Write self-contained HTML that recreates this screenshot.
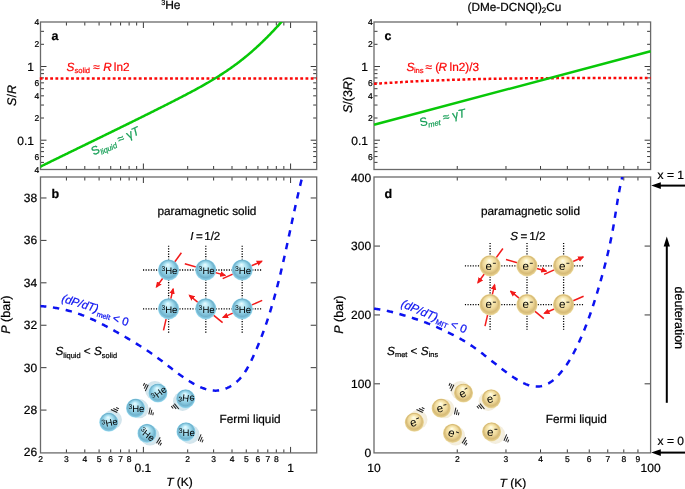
<!DOCTYPE html>
<html><head><meta charset="utf-8"><style>html,body{margin:0;padding:0;background:#fff;overflow:hidden;}svg{display:block;filter:blur(0.35px);}</style></head>
<body>
<svg width="685" height="489" viewBox="0 0 685 489" text-rendering="geometricPrecision" font-family='"Liberation Sans", sans-serif'>
<defs>
<radialGradient id="he" cx="0.5" cy="0.5" r="0.5" fx="0.46" fy="0.24">
<stop offset="0" stop-color="#eafcff"/><stop offset="0.3" stop-color="#b8e8f6"/><stop offset="0.62" stop-color="#8ccce2"/><stop offset="0.82" stop-color="#70b2cc"/><stop offset="0.93" stop-color="#84c8e2"/><stop offset="1" stop-color="#b0e8f8"/>
</radialGradient>
<radialGradient id="el" cx="0.5" cy="0.5" r="0.5" fx="0.46" fy="0.24">
<stop offset="0" stop-color="#fffdec"/><stop offset="0.3" stop-color="#f9ecb8"/><stop offset="0.62" stop-color="#eed89a"/><stop offset="0.82" stop-color="#d6ba76"/><stop offset="0.93" stop-color="#e2ca88"/><stop offset="1" stop-color="#f3e4ae"/>
</radialGradient>
<radialGradient id="heg" cx="0.5" cy="0.5" r="0.5"><stop offset="0" stop-color="#d6ecf4"/><stop offset="1" stop-color="#c2dae4"/></radialGradient>
<radialGradient id="elg" cx="0.5" cy="0.5" r="0.5"><stop offset="0" stop-color="#faf6e8"/><stop offset="1" stop-color="#eee6d0"/></radialGradient>
<marker id="ar" viewBox="0 0 10 10" refX="8" refY="5" markerWidth="4.2" markerHeight="4.2" orient="auto"><path d="M0,0.5L10,5L0,9.5z" fill="#f21a1a"/></marker>
<clipPath id="ca"><rect x="40.5" y="22" width="276.2" height="147.5"/></clipPath>
<clipPath id="cb"><rect x="40.5" y="177" width="276.2" height="275.7"/></clipPath>
<clipPath id="cd"><rect x="374" y="177" width="276.6" height="275.7"/></clipPath>
</defs>
<rect width="685" height="489" fill="#fff"/>
<text x="161.3" y="9" font-size="12" stroke="#000" stroke-width="0.22"><tspan font-size="7.2" dy="-3.9">3</tspan><tspan dy="3.9" x="165.2">He</tspan></text>
<text x="467.6" y="11" font-size="11.75" stroke="#000" stroke-width="0.22">(DMe-DCNQI)<tspan font-size="8" dy="2.4" dx="-0.2">2</tspan><tspan dy="-2.4">Cu</tspan></text>
<path d="M66.42,169.5v-3.5M66.42,22v3.5M84.81,169.5v-3.5M84.81,22v3.5M99.08,169.5v-3.5M99.08,22v3.5M110.73,169.5v-3.5M110.73,22v3.5M120.59,169.5v-3.5M120.59,22v3.5M129.12,169.5v-3.5M129.12,22v3.5M136.65,169.5v-3.5M136.65,22v3.5M143.39,169.5v-6M143.39,22v6M187.7,169.5v-3.5M187.7,22v3.5M213.62,169.5v-3.5M213.62,22v3.5M232.01,169.5v-3.5M232.01,22v3.5M246.28,169.5v-3.5M246.28,22v3.5M257.93,169.5v-3.5M257.93,22v3.5M267.79,169.5v-3.5M267.79,22v3.5M276.32,169.5v-3.5M276.32,22v3.5M283.85,169.5v-3.5M283.85,22v3.5M290.59,169.5v-6M290.59,22v6" stroke="#3a3a3a" stroke-width="1" fill="none"/>
<path d="M66.42,452.9v-3.5M66.42,177v3.5M84.81,452.9v-3.5M84.81,177v3.5M99.08,452.9v-3.5M99.08,177v3.5M110.73,452.9v-3.5M110.73,177v3.5M120.59,452.9v-3.5M120.59,177v3.5M129.12,452.9v-3.5M129.12,177v3.5M136.65,452.9v-3.5M136.65,177v3.5M143.39,452.9v-6M143.39,177v6M187.7,452.9v-3.5M187.7,177v3.5M213.62,452.9v-3.5M213.62,177v3.5M232.01,452.9v-3.5M232.01,177v3.5M246.28,452.9v-3.5M246.28,177v3.5M257.93,452.9v-3.5M257.93,177v3.5M267.79,452.9v-3.5M267.79,177v3.5M276.32,452.9v-3.5M276.32,177v3.5M283.85,452.9v-3.5M283.85,177v3.5M290.59,452.9v-6M290.59,177v6" stroke="#3a3a3a" stroke-width="1" fill="none"/>
<path d="M457.26,169.5v-3.5M457.26,22v3.5M505.97,169.5v-3.5M505.97,22v3.5M540.53,169.5v-3.5M540.53,22v3.5M567.34,169.5v-3.5M567.34,22v3.5M589.24,169.5v-3.5M589.24,22v3.5M607.75,169.5v-3.5M607.75,22v3.5M623.79,169.5v-3.5M623.79,22v3.5M637.94,169.5v-3.5M637.94,22v3.5" stroke="#3a3a3a" stroke-width="1" fill="none"/>
<path d="M457.26,452.9v-3.5M457.26,177v3.5M505.97,452.9v-3.5M505.97,177v3.5M540.53,452.9v-3.5M540.53,177v3.5M567.34,452.9v-3.5M567.34,177v3.5M589.24,452.9v-3.5M589.24,177v3.5M607.75,452.9v-3.5M607.75,177v3.5M623.79,452.9v-3.5M623.79,177v3.5M637.94,452.9v-3.5M637.94,177v3.5" stroke="#3a3a3a" stroke-width="1" fill="none"/>
<path d="M40.5,162.39h3.5M316.7,162.39h-3.5M40.5,156.55h3.5M316.7,156.55h-3.5M40.5,151.62h3.5M316.7,151.62h-3.5M40.5,147.34h3.5M316.7,147.34h-3.5M40.5,143.57h3.5M316.7,143.57h-3.5M40.5,140.2h6M316.7,140.2h-6M40.5,118.01h3.5M316.7,118.01h-3.5M40.5,105.04h3.5M316.7,105.04h-3.5M40.5,95.83h3.5M316.7,95.83h-3.5M40.5,88.69h3.5M316.7,88.69h-3.5M40.5,82.85h3.5M316.7,82.85h-3.5M40.5,77.92h3.5M316.7,77.92h-3.5M40.5,73.64h3.5M316.7,73.64h-3.5M40.5,69.87h3.5M316.7,69.87h-3.5M40.5,66.5h6M316.7,66.5h-6M40.5,44.31h3.5M316.7,44.31h-3.5M40.5,31.34h3.5M316.7,31.34h-3.5" stroke="#3a3a3a" stroke-width="1" fill="none"/>
<path d="M374,162.39h3.5M650.6,162.39h-3.5M374,156.55h3.5M650.6,156.55h-3.5M374,151.62h3.5M650.6,151.62h-3.5M374,147.34h3.5M650.6,147.34h-3.5M374,143.57h3.5M650.6,143.57h-3.5M374,140.2h6M650.6,140.2h-6M374,118.01h3.5M650.6,118.01h-3.5M374,105.04h3.5M650.6,105.04h-3.5M374,95.83h3.5M650.6,95.83h-3.5M374,88.69h3.5M650.6,88.69h-3.5M374,82.85h3.5M650.6,82.85h-3.5M374,77.92h3.5M650.6,77.92h-3.5M374,73.64h3.5M650.6,73.64h-3.5M374,69.87h3.5M650.6,69.87h-3.5M374,66.5h6M650.6,66.5h-6M374,44.31h3.5M650.6,44.31h-3.5M374,31.34h3.5M650.6,31.34h-3.5" stroke="#3a3a3a" stroke-width="1" fill="none"/>
<path d="M40.5,410.08h6M316.7,410.08h-6M40.5,367.66h6M316.7,367.66h-6M40.5,325.24h6M316.7,325.24h-6M40.5,282.82h6M316.7,282.82h-6M40.5,240.4h6M316.7,240.4h-6M40.5,197.98h6M316.7,197.98h-6" stroke="#3a3a3a" stroke-width="1" fill="none"/>
<path d="M374,383.82h6M650.6,383.82h-6M374,314.95h6M650.6,314.95h-6M374,246.07h6M650.6,246.07h-6" stroke="#3a3a3a" stroke-width="1" fill="none"/>
<rect x="40.5" y="22" width="276.2" height="147.5" fill="none" stroke="#6a6a6a" stroke-width="1.3"/>
<rect x="40.5" y="177" width="276.2" height="275.9" fill="none" stroke="#6a6a6a" stroke-width="1.3"/>
<rect x="374" y="22" width="276.6" height="147.5" fill="none" stroke="#6a6a6a" stroke-width="1.3"/>
<rect x="374" y="177" width="276.6" height="275.9" fill="none" stroke="#6a6a6a" stroke-width="1.3"/>
<text x="39.2" y="25.23" font-size="8.5" text-anchor="end" fill="#000"  stroke="#000" stroke-width="0.22">4</text>
<text x="39.2" y="47.41" font-size="8.5" text-anchor="end" fill="#000"  stroke="#000" stroke-width="0.22">2</text>
<text x="39.2" y="85.95" font-size="8.5" text-anchor="end" fill="#000"  stroke="#000" stroke-width="0.22">6</text>
<text x="39.2" y="98.93" font-size="8.5" text-anchor="end" fill="#000"  stroke="#000" stroke-width="0.22">4</text>
<text x="39.2" y="121.11" font-size="8.5" text-anchor="end" fill="#000"  stroke="#000" stroke-width="0.22">2</text>
<text x="39.2" y="159.65" font-size="8.5" text-anchor="end" fill="#000"  stroke="#000" stroke-width="0.22">6</text>
<text x="39.2" y="172.63" font-size="8.5" text-anchor="end" fill="#000"  stroke="#000" stroke-width="0.22">4</text>
<text x="372.7" y="25.23" font-size="8.5" text-anchor="end" fill="#000"  stroke="#000" stroke-width="0.22">4</text>
<text x="372.7" y="47.41" font-size="8.5" text-anchor="end" fill="#000"  stroke="#000" stroke-width="0.22">2</text>
<text x="372.7" y="85.95" font-size="8.5" text-anchor="end" fill="#000"  stroke="#000" stroke-width="0.22">6</text>
<text x="372.7" y="98.93" font-size="8.5" text-anchor="end" fill="#000"  stroke="#000" stroke-width="0.22">4</text>
<text x="372.7" y="121.11" font-size="8.5" text-anchor="end" fill="#000"  stroke="#000" stroke-width="0.22">2</text>
<text x="372.7" y="159.65" font-size="8.5" text-anchor="end" fill="#000"  stroke="#000" stroke-width="0.22">6</text>
<text x="34" y="70.8" font-size="12" text-anchor="end" fill="#000"  stroke="#000" stroke-width="0.22">1</text>
<text x="34" y="144.5" font-size="12" text-anchor="end" fill="#000"  stroke="#000" stroke-width="0.22">0.1</text>
<text x="367.9" y="70.8" font-size="12" text-anchor="end" fill="#000"  stroke="#000" stroke-width="0.22">1</text>
<text x="367.9" y="144.5" font-size="12" text-anchor="end" fill="#000"  stroke="#000" stroke-width="0.22">0.1</text>
<text x="37.2" y="456.4" font-size="12" text-anchor="end" fill="#000"  stroke="#000" stroke-width="0.22">26</text>
<text x="37.2" y="413.98" font-size="12" text-anchor="end" fill="#000"  stroke="#000" stroke-width="0.22">28</text>
<text x="37.2" y="371.56" font-size="12" text-anchor="end" fill="#000"  stroke="#000" stroke-width="0.22">30</text>
<text x="37.2" y="329.14" font-size="12" text-anchor="end" fill="#000"  stroke="#000" stroke-width="0.22">32</text>
<text x="37.2" y="286.72" font-size="12" text-anchor="end" fill="#000"  stroke="#000" stroke-width="0.22">34</text>
<text x="37.2" y="244.3" font-size="12" text-anchor="end" fill="#000"  stroke="#000" stroke-width="0.22">36</text>
<text x="37.2" y="201.88" font-size="12" text-anchor="end" fill="#000"  stroke="#000" stroke-width="0.22">38</text>
<text x="371.1" y="457" font-size="12" text-anchor="end" fill="#000"  stroke="#000" stroke-width="0.22">0</text>
<text x="371.1" y="388.12" font-size="12" text-anchor="end" fill="#000"  stroke="#000" stroke-width="0.22">100</text>
<text x="371.1" y="319.25" font-size="12" text-anchor="end" fill="#000"  stroke="#000" stroke-width="0.22">200</text>
<text x="371.1" y="250.38" font-size="12" text-anchor="end" fill="#000"  stroke="#000" stroke-width="0.22">300</text>
<text x="371.1" y="181.5" font-size="12" text-anchor="end" fill="#000"  stroke="#000" stroke-width="0.22">400</text>
<text x="40.5" y="461.6" font-size="8.5" text-anchor="middle" fill="#000"  stroke="#000" stroke-width="0.22">2</text>
<text x="66.42" y="461.6" font-size="8.5" text-anchor="middle" fill="#000"  stroke="#000" stroke-width="0.22">3</text>
<text x="84.81" y="461.6" font-size="8.5" text-anchor="middle" fill="#000"  stroke="#000" stroke-width="0.22">4</text>
<text x="99.08" y="461.6" font-size="8.5" text-anchor="middle" fill="#000"  stroke="#000" stroke-width="0.22">5</text>
<text x="110.73" y="461.6" font-size="8.5" text-anchor="middle" fill="#000"  stroke="#000" stroke-width="0.22">6</text>
<text x="120.59" y="461.6" font-size="8.5" text-anchor="middle" fill="#000"  stroke="#000" stroke-width="0.22">7</text>
<text x="129.12" y="461.6" font-size="8.5" text-anchor="middle" fill="#000"  stroke="#000" stroke-width="0.22">8</text>
<text x="187.7" y="461.6" font-size="8.5" text-anchor="middle" fill="#000"  stroke="#000" stroke-width="0.22">2</text>
<text x="213.62" y="461.6" font-size="8.5" text-anchor="middle" fill="#000"  stroke="#000" stroke-width="0.22">3</text>
<text x="232.01" y="461.6" font-size="8.5" text-anchor="middle" fill="#000"  stroke="#000" stroke-width="0.22">4</text>
<text x="246.28" y="461.6" font-size="8.5" text-anchor="middle" fill="#000"  stroke="#000" stroke-width="0.22">5</text>
<text x="257.93" y="461.6" font-size="8.5" text-anchor="middle" fill="#000"  stroke="#000" stroke-width="0.22">6</text>
<text x="267.79" y="461.6" font-size="8.5" text-anchor="middle" fill="#000"  stroke="#000" stroke-width="0.22">7</text>
<text x="276.32" y="461.6" font-size="8.5" text-anchor="middle" fill="#000"  stroke="#000" stroke-width="0.22">8</text>
<text x="142.89" y="472.2" font-size="12" text-anchor="middle" fill="#000"  stroke="#000" stroke-width="0.22">0.1</text>
<text x="290.59" y="472.2" font-size="12" text-anchor="middle" fill="#000"  stroke="#000" stroke-width="0.22">1</text>
<text x="457.26" y="461.6" font-size="8.5" text-anchor="middle" fill="#000"  stroke="#000" stroke-width="0.22">2</text>
<text x="505.97" y="461.6" font-size="8.5" text-anchor="middle" fill="#000"  stroke="#000" stroke-width="0.22">3</text>
<text x="540.53" y="461.6" font-size="8.5" text-anchor="middle" fill="#000"  stroke="#000" stroke-width="0.22">4</text>
<text x="567.34" y="461.6" font-size="8.5" text-anchor="middle" fill="#000"  stroke="#000" stroke-width="0.22">5</text>
<text x="589.24" y="461.6" font-size="8.5" text-anchor="middle" fill="#000"  stroke="#000" stroke-width="0.22">6</text>
<text x="607.75" y="461.6" font-size="8.5" text-anchor="middle" fill="#000"  stroke="#000" stroke-width="0.22">7</text>
<text x="623.79" y="461.6" font-size="8.5" text-anchor="middle" fill="#000"  stroke="#000" stroke-width="0.22">8</text>
<text x="637.94" y="461.6" font-size="8.5" text-anchor="middle" fill="#000"  stroke="#000" stroke-width="0.22">9</text>
<text x="374" y="472.2" font-size="12" text-anchor="middle" fill="#000"  stroke="#000" stroke-width="0.22">10</text>
<text x="650.6" y="472.2" font-size="12" text-anchor="middle" fill="#000"  stroke="#000" stroke-width="0.22">100</text>
<text x="179.5" y="486.2" font-size="12" text-anchor="middle" fill="#000"  stroke="#000" stroke-width="0.22"><tspan font-style="italic">T</tspan> (K)</text>
<text x="512.8" y="486.6" font-size="12" text-anchor="middle" fill="#000"  stroke="#000" stroke-width="0.22"><tspan font-style="italic">T</tspan> (K)</text>
<text transform="translate(15.8,95.5) rotate(-90)" font-size="12.5" text-anchor="middle" stroke="#000" stroke-width="0.22"><tspan font-style="italic">S</tspan>/<tspan font-style="italic">R</tspan></text>
<text transform="translate(352.4,95) rotate(-90)" font-size="12.5" text-anchor="middle" stroke="#000" stroke-width="0.22"><tspan font-style="italic">S</tspan>/(3<tspan font-style="italic">R</tspan>)</text>
<text transform="translate(9.6,314.6) rotate(-90)" font-size="12.5" text-anchor="middle" stroke="#000" stroke-width="0.22"><tspan font-style="italic">P</tspan> (bar)</text>
<text transform="translate(343.4,314.6) rotate(-90)" font-size="12.5" text-anchor="middle" stroke="#000" stroke-width="0.22"><tspan font-style="italic">P</tspan> (bar)</text>
<text x="51.4" y="39.8" font-size="12.5" text-anchor="start" fill="#000" font-weight="bold" stroke="#000" stroke-width="0.22">a</text>
<text x="51.4" y="198.2" font-size="12.5" text-anchor="start" fill="#000" font-weight="bold" stroke="#000" stroke-width="0.22">b</text>
<text x="384.6" y="40.2" font-size="12.5" text-anchor="start" fill="#000" font-weight="bold" stroke="#000" stroke-width="0.22">c</text>
<text x="384.6" y="197.6" font-size="12.5" text-anchor="start" fill="#000" font-weight="bold" stroke="#000" stroke-width="0.22">d</text>
<path d="M39.8,78.5H316.7" stroke="#fc0808" stroke-width="2.5" stroke-dasharray="2.8 2.41" fill="none"/>
<path d="M38.01,167.81 L38.88,167.39 L39.75,166.96 L40.62,166.53 L41.49,166.11 L42.36,165.68 L43.23,165.25 L44.1,164.83 L44.97,164.4 L45.84,163.97 L46.71,163.55 L47.58,163.12 L48.45,162.69 L49.32,162.27 L50.19,161.84 L51.06,161.42 L51.93,160.99 L52.8,160.57 L53.67,160.14 L54.54,159.71 L55.41,159.29 L56.28,158.86 L57.16,158.44 L58.03,158.01 L58.9,157.59 L59.77,157.16 L60.64,156.74 L61.51,156.31 L62.38,155.89 L63.25,155.46 L64.12,155.04 L64.99,154.61 L65.86,154.19 L66.73,153.76 L67.6,153.34 L68.48,152.91 L69.35,152.49 L70.22,152.06 L71.09,151.64 L71.96,151.21 L72.83,150.79 L73.7,150.36 L74.57,149.94 L75.44,149.52 L76.31,149.09 L77.18,148.67 L78.05,148.24 L78.93,147.82 L79.8,147.39 L80.67,146.97 L81.54,146.54 L82.41,146.12 L83.28,145.69 L84.15,145.27 L85.02,144.85 L85.89,144.42 L86.76,144 L87.63,143.57 L88.5,143.15 L89.37,142.72 L90.25,142.3 L91.12,141.87 L91.99,141.45 L92.86,141.02 L93.73,140.6 L94.6,140.18 L95.47,139.75 L96.34,139.33 L97.21,138.9 L98.08,138.48 L98.95,138.05 L99.82,137.63 L100.69,137.2 L101.56,136.78 L102.43,136.35 L103.3,135.93 L104.17,135.5 L105.04,135.08 L105.91,134.65 L106.78,134.23 L107.65,133.8 L108.53,133.38 L109.4,132.95 L110.27,132.52 L111.14,132.1 L112.01,131.67 L112.88,131.25 L113.75,130.82 L114.62,130.4 L115.49,129.97 L116.36,129.54 L117.23,129.12 L118.1,128.69 L118.97,128.27 L119.84,127.84 L120.7,127.41 L121.57,126.99 L122.44,126.56 L123.31,126.13 L124.18,125.71 L125.05,125.28 L125.92,124.85 L126.79,124.42 L127.66,124 L128.53,123.57 L129.4,123.14 L130.27,122.71 L131.14,122.29 L132.01,121.86 L132.88,121.43 L133.74,121 L134.61,120.57 L135.48,120.15 L136.35,119.72 L137.22,119.29 L138.09,118.86 L138.96,118.43 L139.83,118 L140.69,117.57 L141.56,117.14 L142.43,116.71 L143.3,116.28 L144.17,115.85 L145.03,115.42 L145.9,114.99 L146.77,114.56 L147.64,114.12 L148.5,113.69 L149.37,113.26 L150.24,112.83 L151.11,112.4 L151.97,111.96 L152.84,111.53 L153.71,111.1 L154.57,110.66 L155.44,110.23 L156.31,109.8 L157.17,109.36 L158.04,108.93 L158.91,108.49 L159.77,108.06 L160.64,107.62 L161.5,107.19 L162.37,106.75 L163.23,106.31 L164.1,105.88 L164.96,105.44 L165.83,105 L166.69,104.56 L167.56,104.13 L168.42,103.69 L169.29,103.25 L170.15,102.81 L171.02,102.37 L171.88,101.93 L172.74,101.49 L173.61,101.05 L174.47,100.61 L175.34,100.17 L176.2,99.73 L177.06,99.28 L177.92,98.84 L178.79,98.4 L179.65,97.95 L180.51,97.51 L181.37,97.06 L182.23,96.62 L183.1,96.17 L183.96,95.72 L184.82,95.28 L185.68,94.83 L186.54,94.38 L187.39,93.93 L188.25,93.48 L189.11,93.02 L189.97,92.57 L190.82,92.11 L191.68,91.66 L192.53,91.2 L193.39,90.74 L194.24,90.28 L195.09,89.82 L195.94,89.36 L196.8,88.89 L197.65,88.43 L198.49,87.96 L199.34,87.49 L200.19,87.02 L201.04,86.55 L201.88,86.08 L202.73,85.6 L203.57,85.12 L204.41,84.65 L205.25,84.16 L206.09,83.68 L206.93,83.2 L207.77,82.71 L208.61,82.22 L209.44,81.73 L210.27,81.24 L211.11,80.75 L211.94,80.25 L212.77,79.75 L213.6,79.25 L214.42,78.75 L215.25,78.24 L216.07,77.74 L216.89,77.23 L217.72,76.72 L218.54,76.2 L219.35,75.68 L220.17,75.16 L220.98,74.64 L221.8,74.12 L222.61,73.59 L223.42,73.06 L224.22,72.53 L225.03,72 L225.83,71.46 L226.64,70.92 L227.44,70.38 L228.23,69.83 L229.03,69.28 L229.82,68.73 L230.62,68.18 L231.41,67.62 L232.19,67.06 L232.98,66.5 L233.76,65.93 L234.55,65.36 L235.33,64.79 L236.1,64.22 L236.88,63.64 L237.65,63.06 L238.42,62.47 L239.19,61.89 L239.96,61.3 L240.72,60.7 L241.48,60.11 L242.24,59.51 L243,58.91 L243.76,58.3 L244.51,57.69 L245.26,57.08 L246.01,56.47 L246.76,55.85 L247.51,55.24 L248.25,54.61 L248.99,53.99 L249.73,53.36 L250.46,52.73 L251.2,52.1 L251.93,51.46 L252.66,50.82 L253.38,50.18 L254.11,49.54 L254.83,48.89 L255.55,48.24 L256.27,47.59 L256.99,46.94 L257.7,46.28 L258.42,45.62 L259.13,44.96 L259.83,44.3 L260.54,43.63 L261.24,42.96 L261.95,42.29 L262.65,41.62 L263.34,40.94 L264.04,40.27 L264.73,39.59 L265.42,38.91 L266.11,38.22 L266.8,37.54 L267.49,36.85 L268.17,36.16 L268.85,35.47 L269.53,34.77 L270.21,34.08 L270.88,33.38 L271.56,32.68 L272.23,31.98 L272.9,31.28 L273.57,30.57 L274.23,29.86 L274.9,29.16 L275.56,28.45 L276.22,27.73 L276.88,27.02 L277.54,26.31 L278.19,25.59 L278.84,24.87 L279.49,24.15 L280.14,23.43 L280.79,22.71 L281.44,21.99 L282.08,21.26 L282.72,20.54 L283.36,19.81 L284,19.08" stroke="#08c808" stroke-width="2.5" fill="none" clip-path="url(#ca)"/>
<text x="66.6" y="70.6" font-size="11.8" fill="#fc0808" stroke="#fc0808" stroke-width="0.22"><tspan font-style="italic">S</tspan><tspan font-size="7.6" dy="2.6">solid</tspan><tspan dy="-2.6"> ≈ </tspan><tspan font-style="italic">R</tspan><tspan dx="2.2">ln2</tspan></text>
<text transform="translate(93.4,155.6) rotate(-25)" font-size="11.8" fill="#18a058" stroke="#18a058" stroke-width="0.22">S<tspan font-size="7.6" dy="2.6" font-style="italic">liquid</tspan><tspan dy="-2.6"> ≈ γ</tspan><tspan font-style="italic">T</tspan></text>
<path d="M374,83.87 L374.92,83.8 L375.85,83.73 L376.77,83.67 L377.7,83.61 L378.62,83.54 L379.54,83.48 L380.47,83.41 L381.39,83.35 L382.31,83.29 L383.24,83.23 L384.16,83.17 L385.09,83.11 L386.01,83.05 L386.93,82.99 L387.86,82.93 L388.78,82.87 L389.7,82.81 L390.63,82.75 L391.55,82.7 L392.48,82.64 L393.4,82.58 L394.32,82.53 L395.25,82.47 L396.17,82.42 L397.1,82.36 L398.02,82.31 L398.94,82.25 L399.87,82.2 L400.79,82.15 L401.72,82.09 L402.64,82.04 L403.57,81.99 L404.49,81.94 L405.41,81.89 L406.34,81.84 L407.26,81.79 L408.19,81.74 L409.11,81.69 L410.03,81.64 L410.96,81.59 L411.88,81.55 L412.81,81.5 L413.73,81.45 L414.66,81.41 L415.58,81.36 L416.51,81.32 L417.43,81.27 L418.35,81.23 L419.28,81.18 L420.2,81.14 L421.13,81.09 L422.05,81.05 L422.98,81.01 L423.9,80.97 L424.83,80.92 L425.75,80.88 L426.67,80.84 L427.6,80.8 L428.52,80.76 L429.45,80.72 L430.37,80.68 L431.3,80.64 L432.22,80.6 L433.15,80.56 L434.07,80.53 L435,80.49 L435.92,80.45 L436.84,80.41 L437.77,80.38 L438.69,80.34 L439.62,80.31 L440.54,80.27 L441.47,80.24 L442.39,80.2 L443.32,80.17 L444.24,80.13 L445.17,80.1 L446.09,80.07 L447.02,80.03 L447.94,80 L448.87,79.97 L449.79,79.94 L450.72,79.91 L451.64,79.87 L452.57,79.84 L453.49,79.81 L454.42,79.78 L455.34,79.75 L456.27,79.72 L457.19,79.69 L458.12,79.67 L459.04,79.64 L459.97,79.61 L460.89,79.58 L461.81,79.55 L462.74,79.53 L463.66,79.5 L464.59,79.47 L465.51,79.45 L466.44,79.42 L467.36,79.4 L468.29,79.37 L469.22,79.35 L470.14,79.32 L471.07,79.3 L471.99,79.27 L472.92,79.25 L473.84,79.23 L474.77,79.2 L475.69,79.18 L476.62,79.16 L477.54,79.14 L478.47,79.11 L479.39,79.09 L480.32,79.07 L481.24,79.05 L482.17,79.03 L483.09,79.01 L484.02,78.99 L484.94,78.97 L485.87,78.95 L486.79,78.93 L487.72,78.91 L488.64,78.89 L489.57,78.87 L490.49,78.85 L491.42,78.84 L492.34,78.82 L493.27,78.8 L494.19,78.78 L495.12,78.77 L496.05,78.75 L496.97,78.73 L497.9,78.72 L498.82,78.7 L499.75,78.69 L500.67,78.67 L501.6,78.65 L502.52,78.64 L503.45,78.62 L504.37,78.61 L505.3,78.6 L506.22,78.58 L507.15,78.57 L508.07,78.55 L509,78.54 L509.93,78.53 L510.85,78.52 L511.78,78.5 L512.7,78.49 L513.63,78.48 L514.55,78.47 L515.48,78.45 L516.4,78.44 L517.33,78.43 L518.25,78.42 L519.18,78.41 L520.1,78.4 L521.03,78.39 L521.96,78.38 L522.88,78.37 L523.81,78.36 L524.73,78.35 L525.66,78.34 L526.58,78.33 L527.51,78.32 L528.43,78.31 L529.36,78.3 L530.28,78.29 L531.21,78.29 L532.14,78.28 L533.06,78.27 L533.99,78.26 L534.91,78.25 L535.84,78.25 L536.76,78.24 L537.69,78.23 L538.61,78.23 L539.54,78.22 L540.47,78.21 L541.39,78.21 L542.32,78.2 L543.24,78.19 L544.17,78.19 L545.09,78.18 L546.02,78.18 L546.94,78.17 L547.87,78.17 L548.8,78.16 L549.72,78.16 L550.65,78.15 L551.57,78.15 L552.5,78.14 L553.42,78.14 L554.35,78.13 L555.27,78.13 L556.2,78.13 L557.13,78.12 L558.05,78.12 L558.98,78.11 L559.9,78.11 L560.83,78.11 L561.75,78.1 L562.68,78.1 L563.6,78.1 L564.53,78.1 L565.46,78.09 L566.38,78.09 L567.31,78.09 L568.23,78.09 L569.16,78.08 L570.08,78.08 L571.01,78.08 L571.93,78.08 L572.86,78.08 L573.79,78.07 L574.71,78.07 L575.64,78.07 L576.56,78.07 L577.49,78.07 L578.41,78.07 L579.34,78.07 L580.26,78.07 L581.19,78.06 L582.12,78.06 L583.04,78.06 L583.97,78.06 L584.89,78.06 L585.82,78.06 L586.74,78.06 L587.67,78.06 L588.59,78.06 L589.52,78.06 L590.45,78.06 L591.37,78.06 L592.3,78.06 L593.22,78.06 L594.15,78.06 L595.07,78.06 L596,78.06 L596.92,78.06 L597.85,78.06 L598.78,78.06 L599.7,78.06 L600.63,78.06 L601.55,78.06 L602.48,78.06 L603.4,78.06 L604.33,78.07 L605.25,78.07 L606.18,78.07 L607.11,78.07 L608.03,78.07 L608.96,78.07 L609.88,78.07 L610.81,78.07 L611.73,78.07 L612.66,78.07 L613.58,78.07 L614.51,78.08 L615.43,78.08 L616.36,78.08 L617.29,78.08 L618.21,78.08 L619.14,78.08 L620.06,78.08 L620.99,78.08 L621.91,78.08 L622.84,78.09 L623.76,78.09 L624.69,78.09 L625.61,78.09 L626.54,78.09 L627.47,78.09 L628.39,78.09 L629.32,78.09 L630.24,78.1 L631.17,78.1 L632.09,78.1 L633.02,78.1 L633.94,78.1 L634.87,78.1 L635.79,78.1 L636.72,78.1 L637.65,78.1 L638.57,78.11 L639.5,78.11 L640.42,78.11 L641.35,78.11 L642.27,78.11 L643.2,78.11 L644.12,78.11 L645.05,78.11 L645.97,78.11 L646.9,78.11 L647.82,78.11 L648.75,78.11 L649.67,78.12 L650.6,78.12" stroke="#fc0808" stroke-width="2.5" stroke-dasharray="2.8 2.41" fill="none"/>
<path d="M374,124.7L650.6,51.3" stroke="#08c808" stroke-width="2.5" fill="none"/>
<text x="406.6" y="70.6" font-size="11.8" fill="#fc0808" stroke="#fc0808" stroke-width="0.22"><tspan font-style="italic">S</tspan><tspan font-size="7.6" dy="2.6" x="413.9">ins</tspan><tspan dy="-2.6" x="425.6">≈</tspan><tspan x="435.3">(</tspan><tspan font-style="italic" x="438.6">R</tspan><tspan x="449.6">ln2)/3</tspan></text>
<text transform="translate(420.5,126.5) rotate(-12)" font-size="11.8" fill="#18a058" stroke="#18a058" stroke-width="0.22">S<tspan font-size="7.6" dy="2.6" font-style="italic">met</tspan><tspan dy="-2.6"> ≈ γ</tspan><tspan font-style="italic">T</tspan></text>
<path d="M38,305.9 L38.88,305.96 L39.76,306.02 L40.64,306.09 L41.52,306.16 L42.4,306.24 L43.28,306.32 L44.16,306.4 L45.04,306.49 L45.92,306.58 L46.8,306.68 L47.69,306.78 L48.57,306.89 L49.45,307 L50.33,307.11 L51.21,307.23 L52.08,307.36 L52.96,307.49 L53.84,307.62 L54.72,307.76 L55.59,307.9 L56.47,308.05 L57.34,308.2 L58.22,308.36 L59.09,308.53 L59.96,308.7 L60.83,308.87 L61.7,309.05 L62.57,309.24 L63.43,309.43 L64.3,309.62 L65.16,309.83 L66.02,310.03 L66.88,310.25 L67.74,310.47 L68.59,310.69 L69.45,310.93 L70.3,311.16 L71.15,311.41 L72,311.65 L72.84,311.91 L73.69,312.17 L74.53,312.43 L75.37,312.71 L76.21,312.98 L77.04,313.26 L77.88,313.55 L78.71,313.84 L79.54,314.14 L80.37,314.44 L81.2,314.75 L82.02,315.06 L82.85,315.37 L83.67,315.69 L84.49,316.02 L85.31,316.35 L86.12,316.68 L86.94,317.02 L87.75,317.36 L88.56,317.71 L89.37,318.06 L90.18,318.41 L90.99,318.77 L91.79,319.13 L92.59,319.5 L93.4,319.87 L94.2,320.24 L94.99,320.62 L95.79,321 L96.59,321.38 L97.38,321.77 L98.17,322.16 L98.97,322.55 L99.76,322.94 L100.54,323.34 L101.33,323.74 L102.12,324.15 L102.9,324.55 L103.69,324.96 L104.47,325.37 L105.25,325.78 L106.03,326.2 L106.81,326.62 L107.59,327.03 L108.37,327.46 L109.15,327.88 L109.93,328.3 L110.7,328.73 L111.48,329.16 L112.25,329.59 L113.03,330.02 L113.8,330.45 L114.58,330.88 L115.35,331.31 L116.12,331.75 L116.89,332.18 L117.67,332.62 L118.44,333.06 L119.21,333.5 L119.98,333.93 L120.75,334.37 L121.52,334.82 L122.29,335.26 L123.06,335.7 L123.82,336.15 L124.59,336.59 L125.36,337.04 L126.12,337.49 L126.89,337.93 L127.65,338.38 L128.42,338.84 L129.18,339.29 L129.94,339.74 L130.7,340.2 L131.46,340.65 L132.22,341.11 L132.98,341.57 L133.74,342.03 L134.5,342.49 L135.25,342.95 L136.01,343.42 L136.76,343.89 L137.51,344.35 L138.26,344.82 L139.01,345.29 L139.76,345.77 L140.51,346.24 L141.26,346.72 L142,347.19 L142.75,347.67 L143.49,348.15 L144.23,348.63 L144.97,349.12 L145.71,349.6 L146.45,350.09 L147.19,350.58 L147.92,351.07 L148.65,351.57 L149.39,352.06 L150.12,352.56 L150.84,353.06 L151.57,353.56 L152.3,354.06 L153.02,354.56 L153.74,355.07 L154.46,355.58 L155.18,356.09 L155.9,356.6 L156.61,357.12 L157.33,357.64 L158.04,358.16 L158.75,358.68 L159.46,359.2 L160.16,359.73 L160.87,360.26 L161.57,360.79 L162.27,361.32 L162.97,361.85 L163.67,362.39 L164.37,362.93 L165.06,363.46 L165.76,364 L166.45,364.54 L167.15,365.09 L167.84,365.63 L168.54,366.17 L169.23,366.71 L169.93,367.25 L170.62,367.8 L171.32,368.34 L172.01,368.88 L172.71,369.42 L173.41,369.96 L174.11,370.5 L174.81,371.03 L175.52,371.57 L176.22,372.1 L176.93,372.64 L177.64,373.17 L178.35,373.7 L179.07,374.22 L179.78,374.75 L180.5,375.27 L181.23,375.79 L181.95,376.3 L182.68,376.82 L183.42,377.33 L184.15,377.83 L184.9,378.33 L185.64,378.83 L186.39,379.33 L187.14,379.82 L187.9,380.31 L188.67,380.79 L189.43,381.26 L190.21,381.74 L190.99,382.2 L191.77,382.67 L192.56,383.12 L193.36,383.57 L194.16,384.02 L194.96,384.45 L195.77,384.88 L196.59,385.3 L197.4,385.71 L198.23,386.11 L199.05,386.49 L199.88,386.87 L200.71,387.23 L201.55,387.57 L202.39,387.91 L203.23,388.22 L204.07,388.52 L204.92,388.81 L205.76,389.08 L206.61,389.32 L207.46,389.55 L208.31,389.76 L209.16,389.95 L210.01,390.12 L210.86,390.26 L211.72,390.39 L212.57,390.48 L213.42,390.56 L214.27,390.61 L215.12,390.63 L215.97,390.63 L216.81,390.59 L217.66,390.53 L218.5,390.45 L219.34,390.33 L220.18,390.19 L221.01,390.03 L221.84,389.84 L222.67,389.62 L223.49,389.38 L224.31,389.12 L225.12,388.83 L225.92,388.52 L226.72,388.19 L227.51,387.84 L228.3,387.46 L229.08,387.07 L229.84,386.65 L230.61,386.22 L231.36,385.77 L232.1,385.3 L232.83,384.81 L233.55,384.3 L234.27,383.78 L234.97,383.24 L235.66,382.68 L236.34,382.11 L237,381.52 L237.66,380.92 L238.3,380.31 L238.92,379.68 L239.54,379.04 L240.14,378.39 L240.72,377.72 L241.3,377.05 L241.86,376.36 L242.41,375.66 L242.95,374.96 L243.47,374.24 L243.99,373.51 L244.5,372.78 L244.99,372.03 L245.48,371.28 L245.96,370.52 L246.43,369.76 L246.89,368.99 L247.34,368.21 L247.78,367.42 L248.22,366.63 L248.65,365.84 L249.07,365.04 L249.49,364.23 L249.9,363.43 L250.31,362.62 L250.71,361.81 L251.1,360.99 L251.49,360.17 L251.88,359.35 L252.27,358.54 L252.65,357.72 L253.02,356.9 L253.4,356.08 L253.77,355.26 L254.14,354.44 L254.51,353.62 L254.87,352.8 L255.23,351.97 L255.59,351.15 L255.95,350.33 L256.3,349.51 L256.66,348.69 L257.01,347.87 L257.35,347.05 L257.7,346.23 L258.04,345.41 L258.38,344.59 L258.71,343.76 L259.05,342.94 L259.38,342.12 L259.71,341.3 L260.04,340.47 L260.36,339.65 L260.69,338.83 L261.01,338 L261.33,337.18 L261.64,336.36 L261.96,335.53 L262.27,334.71 L262.58,333.88 L262.89,333.06 L263.19,332.23 L263.49,331.4 L263.8,330.58 L264.1,329.75 L264.39,328.92 L264.69,328.09 L264.98,327.27 L265.27,326.44 L265.56,325.61 L265.85,324.78 L266.14,323.95 L266.42,323.12 L266.7,322.28 L266.99,321.45 L267.26,320.62 L267.54,319.79 L267.82,318.95 L268.09,318.12 L268.36,317.28 L268.63,316.45 L268.9,315.61 L269.17,314.77 L269.43,313.94 L269.7,313.1 L269.96,312.26 L270.22,311.42 L270.48,310.58 L270.74,309.74 L270.99,308.9 L271.25,308.06 L271.5,307.21 L271.75,306.37 L272,305.53 L272.25,304.68 L272.5,303.84 L272.75,302.99 L272.99,302.15 L273.23,301.3 L273.48,300.45 L273.72,299.6 L273.96,298.76 L274.19,297.91 L274.43,297.06 L274.67,296.21 L274.9,295.36 L275.13,294.51 L275.37,293.66 L275.6,292.8 L275.83,291.95 L276.06,291.1 L276.28,290.25 L276.51,289.39 L276.73,288.54 L276.96,287.68 L277.18,286.83 L277.4,285.97 L277.62,285.12 L277.84,284.26 L278.06,283.4 L278.28,282.55 L278.5,281.69 L278.71,280.83 L278.93,279.97 L279.14,279.11 L279.35,278.25 L279.56,277.4 L279.78,276.54 L279.99,275.68 L280.19,274.82 L280.4,273.95 L280.61,273.09 L280.82,272.23 L281.02,271.37 L281.23,270.51 L281.43,269.65 L281.64,268.78 L281.84,267.92 L282.04,267.06 L282.24,266.19 L282.44,265.33 L282.64,264.47 L282.84,263.6 L283.04,262.74 L283.24,261.87 L283.44,261.01 L283.64,260.14 L283.83,259.28 L284.03,258.41 L284.22,257.55 L284.42,256.68 L284.61,255.81 L284.81,254.95 L285,254.08 L285.19,253.22 L285.39,252.35 L285.58,251.48 L285.77,250.61 L285.96,249.75 L286.15,248.88 L286.34,248.01 L286.53,247.15 L286.72,246.28 L286.91,245.41 L287.1,244.54 L287.29,243.67 L287.48,242.81 L287.66,241.94 L287.85,241.07 L288.04,240.2 L288.23,239.33 L288.42,238.47 L288.6,237.6 L288.79,236.73 L288.98,235.86 L289.16,234.99 L289.35,234.12 L289.54,233.26 L289.72,232.39 L289.91,231.52 L290.1,230.65 L290.28,229.78 L290.47,228.91 L290.65,228.05 L290.84,227.18 L291.03,226.31 L291.21,225.44 L291.4,224.57 L291.59,223.71 L291.77,222.84 L291.96,221.97 L292.15,221.1 L292.33,220.24 L292.52,219.37 L292.71,218.5 L292.89,217.64 L293.08,216.77 L293.27,215.9 L293.46,215.04 L293.65,214.17 L293.83,213.3 L294.02,212.44 L294.21,211.57 L294.4,210.71 L294.59,209.84 L294.78,208.97 L294.97,208.11 L295.16,207.25 L295.35,206.38 L295.54,205.52 L295.74,204.65 L295.93,203.79 L296.12,202.92 L296.32,202.06 L296.51,201.2 L296.7,200.34 L296.9,199.47 L297.09,198.61 L297.29,197.75 L297.49,196.89 L297.68,196.03 L297.88,195.16 L298.08,194.3 L298.28,193.44 L298.48,192.58 L298.68,191.72 L298.88,190.86 L299.08,190.01 L299.28,189.15 L299.49,188.29 L299.69,187.43 L299.89,186.57 L300.1,185.72 L300.3,184.86 L300.51,184 L300.72,183.15 L300.93,182.29 L301.14,181.44 L301.35,180.58 L301.56,179.73 L301.77,178.88 L301.98,178.02 L302.2,177.17 L302.41,176.32 L302.63,175.47" stroke="#0c12f0" stroke-width="2.5" stroke-dasharray="6.4 6.6" stroke-dashoffset="-2" fill="none" clip-path="url(#cb)"/>
<text transform="translate(60.9,301.6) rotate(17)" font-size="11.4" fill="#0c12f0" font-style="italic" stroke="#0c12f0" stroke-width="0.22">(dP/dT)<tspan font-size="7.3" dy="3.6" font-style="normal">melt</tspan><tspan dy="0.3" dx="-0.4" font-style="normal"> &lt; 0</tspan></text>
<text x="55.4" y="355.0" font-size="11.8" stroke="#000" stroke-width="0.22"><tspan font-style="italic">S</tspan><tspan font-size="7.4" dy="2.6">liquid</tspan><tspan dy="-2.6"> &lt; </tspan><tspan font-style="italic">S</tspan><tspan font-size="7.4" dy="2.6">solid</tspan></text>
<text x="157.4" y="214.6" font-size="11.8" text-anchor="start" fill="#000"  stroke="#000" stroke-width="0.22">paramagnetic solid</text>
<text x="190.2" y="239.9" font-size="11.6" stroke="#000" stroke-width="0.22"><tspan font-style="italic">I</tspan><tspan x="196.0">=</tspan><tspan x="204.2">1/2</tspan></text>
<text x="219.6" y="422.7" font-size="11.8" text-anchor="start" fill="#000"  stroke="#000" stroke-width="0.22">Fermi liquid</text>
<path d="M372.01,308.41 L372.85,308.5 L373.7,308.59 L374.54,308.69 L375.38,308.79 L376.22,308.9 L377.06,309.02 L377.9,309.14 L378.74,309.27 L379.58,309.4 L380.41,309.54 L381.25,309.69 L382.08,309.84 L382.92,310 L383.75,310.16 L384.58,310.33 L385.41,310.5 L386.24,310.67 L387.07,310.86 L387.9,311.04 L388.72,311.23 L389.55,311.42 L390.38,311.62 L391.2,311.82 L392.03,312.03 L392.85,312.24 L393.67,312.45 L394.49,312.66 L395.32,312.88 L396.14,313.1 L396.96,313.33 L397.78,313.55 L398.6,313.78 L399.41,314.01 L400.23,314.24 L401.05,314.48 L401.87,314.71 L402.68,314.95 L403.5,315.19 L404.31,315.43 L405.13,315.67 L405.94,315.92 L406.76,316.16 L407.57,316.41 L408.38,316.66 L409.19,316.91 L410,317.16 L410.82,317.41 L411.62,317.67 L412.43,317.93 L413.24,318.19 L414.05,318.45 L414.86,318.71 L415.66,318.98 L416.47,319.25 L417.27,319.52 L418.08,319.79 L418.88,320.07 L419.68,320.35 L420.48,320.63 L421.28,320.91 L422.08,321.2 L422.88,321.49 L423.67,321.78 L424.47,322.08 L425.26,322.37 L426.06,322.68 L426.85,322.98 L427.64,323.29 L428.43,323.6 L429.22,323.91 L430,324.23 L430.79,324.55 L431.57,324.88 L432.36,325.2 L433.14,325.53 L433.92,325.87 L434.7,326.2 L435.48,326.54 L436.25,326.88 L437.03,327.23 L437.81,327.57 L438.58,327.92 L439.35,328.27 L440.13,328.63 L440.9,328.98 L441.67,329.34 L442.44,329.7 L443.2,330.06 L443.97,330.43 L444.74,330.8 L445.5,331.16 L446.26,331.53 L447.03,331.91 L447.79,332.28 L448.55,332.66 L449.31,333.03 L450.07,333.41 L450.83,333.79 L451.58,334.17 L452.34,334.56 L453.09,334.94 L453.85,335.33 L454.6,335.71 L455.35,336.1 L456.1,336.49 L456.85,336.89 L457.6,337.28 L458.34,337.68 L459.09,338.08 L459.83,338.49 L460.57,338.9 L461.3,339.31 L462.04,339.73 L462.77,340.16 L463.5,340.58 L464.22,341.02 L464.95,341.45 L465.67,341.9 L466.38,342.34 L467.1,342.79 L467.81,343.25 L468.52,343.71 L469.23,344.18 L469.93,344.64 L470.63,345.12 L471.33,345.59 L472.03,346.07 L472.73,346.55 L473.43,347.04 L474.12,347.53 L474.82,348.02 L475.51,348.51 L476.2,349.01 L476.89,349.51 L477.57,350.01 L478.26,350.52 L478.94,351.02 L479.63,351.53 L480.31,352.04 L480.99,352.55 L481.67,353.07 L482.35,353.58 L483.02,354.1 L483.7,354.62 L484.37,355.14 L485.05,355.66 L485.72,356.18 L486.39,356.71 L487.06,357.23 L487.73,357.76 L488.4,358.28 L489.06,358.81 L489.73,359.33 L490.39,359.86 L491.06,360.38 L491.72,360.91 L492.38,361.44 L493.05,361.96 L493.71,362.49 L494.37,363.01 L495.03,363.54 L495.68,364.06 L496.34,364.58 L497,365.11 L497.66,365.63 L498.32,366.15 L498.98,366.67 L499.64,367.18 L500.3,367.7 L500.97,368.22 L501.63,368.73 L502.3,369.24 L502.97,369.76 L503.64,370.27 L504.31,370.78 L504.99,371.28 L505.67,371.79 L506.35,372.29 L507.03,372.79 L507.72,373.29 L508.41,373.79 L509.11,374.28 L509.81,374.78 L510.51,375.27 L511.22,375.76 L511.93,376.24 L512.65,376.73 L513.37,377.21 L514.1,377.68 L514.84,378.16 L515.58,378.63 L516.32,379.1 L517.07,379.56 L517.83,380.02 L518.59,380.47 L519.35,380.91 L520.12,381.34 L520.89,381.77 L521.67,382.18 L522.45,382.58 L523.23,382.96 L524.02,383.34 L524.81,383.69 L525.6,384.04 L526.39,384.36 L527.19,384.67 L527.99,384.96 L528.79,385.22 L529.59,385.47 L530.39,385.7 L531.19,385.9 L532,386.08 L532.81,386.24 L533.61,386.37 L534.42,386.47 L535.22,386.55 L536.03,386.59 L536.84,386.61 L537.64,386.6 L538.45,386.55 L539.25,386.48 L540.05,386.37 L540.85,386.23 L541.65,386.06 L542.44,385.86 L543.23,385.63 L544.01,385.38 L544.79,385.1 L545.56,384.79 L546.33,384.45 L547.09,384.1 L547.84,383.71 L548.58,383.31 L549.32,382.88 L550.04,382.42 L550.76,381.95 L551.46,381.46 L552.16,380.95 L552.84,380.42 L553.51,379.87 L554.18,379.3 L554.83,378.73 L555.48,378.14 L556.11,377.53 L556.74,376.92 L557.35,376.29 L557.96,375.66 L558.56,375.02 L559.15,374.37 L559.73,373.72 L560.3,373.06 L560.86,372.4 L561.42,371.74 L561.97,371.07 L562.51,370.39 L563.04,369.72 L563.56,369.03 L564.08,368.35 L564.59,367.66 L565.09,366.97 L565.59,366.27 L566.07,365.57 L566.56,364.87 L567.03,364.16 L567.5,363.45 L567.97,362.74 L568.42,362.03 L568.87,361.31 L569.32,360.59 L569.76,359.86 L570.2,359.14 L570.63,358.41 L571.05,357.67 L571.47,356.94 L571.89,356.2 L572.3,355.46 L572.71,354.72 L573.11,353.98 L573.51,353.24 L573.91,352.49 L574.3,351.74 L574.69,350.99 L575.07,350.24 L575.45,349.48 L575.83,348.73 L576.21,347.97 L576.58,347.21 L576.95,346.45 L577.32,345.69 L577.69,344.93 L578.05,344.17 L578.41,343.4 L578.77,342.63 L579.12,341.87 L579.48,341.1 L579.83,340.33 L580.17,339.56 L580.52,338.78 L580.86,338.01 L581.2,337.24 L581.54,336.46 L581.88,335.68 L582.21,334.9 L582.54,334.12 L582.87,333.34 L583.2,332.56 L583.52,331.78 L583.84,331 L584.16,330.21 L584.48,329.43 L584.8,328.64 L585.11,327.85 L585.42,327.06 L585.73,326.27 L586.04,325.48 L586.34,324.69 L586.65,323.9 L586.95,323.11 L587.25,322.31 L587.55,321.52 L587.84,320.72 L588.14,319.93 L588.43,319.13 L588.72,318.33 L589.01,317.53 L589.29,316.73 L589.58,315.93 L589.86,315.13 L590.15,314.33 L590.43,313.53 L590.7,312.73 L590.98,311.92 L591.26,311.12 L591.53,310.31 L591.8,309.51 L592.07,308.7 L592.34,307.9 L592.61,307.09 L592.88,306.28 L593.14,305.47 L593.41,304.67 L593.67,303.86 L593.93,303.05 L594.19,302.24 L594.45,301.43 L594.71,300.62 L594.97,299.81 L595.22,298.99 L595.48,298.18 L595.73,297.37 L595.98,296.56 L596.23,295.75 L596.48,294.93 L596.73,294.12 L596.98,293.31 L597.22,292.49 L597.47,291.68 L597.72,290.86 L597.96,290.05 L598.2,289.24 L598.45,288.42 L598.69,287.61 L598.93,286.79 L599.17,285.98 L599.41,285.16 L599.64,284.35 L599.88,283.53 L600.12,282.71 L600.35,281.9 L600.58,281.08 L600.82,280.27 L601.05,279.45 L601.28,278.63 L601.51,277.81 L601.74,277 L601.97,276.18 L602.19,275.36 L602.42,274.54 L602.64,273.73 L602.87,272.91 L603.09,272.09 L603.31,271.27 L603.53,270.45 L603.75,269.63 L603.97,268.81 L604.19,267.99 L604.4,267.17 L604.62,266.35 L604.83,265.53 L605.04,264.71 L605.25,263.89 L605.46,263.07 L605.67,262.24 L605.88,261.42 L606.09,260.6 L606.29,259.78 L606.49,258.95 L606.7,258.13 L606.9,257.31 L607.1,256.48 L607.3,255.66 L607.49,254.84 L607.69,254.01 L607.88,253.19 L608.08,252.36 L608.27,251.53 L608.46,250.71 L608.65,249.88 L608.84,249.06 L609.03,248.23 L609.21,247.4 L609.39,246.57 L609.58,245.75 L609.76,244.92 L609.94,244.09 L610.12,243.26 L610.29,242.43 L610.47,241.6 L610.64,240.77 L610.82,239.94 L610.99,239.11 L611.16,238.28 L611.32,237.45 L611.49,236.62 L611.66,235.79 L611.82,234.95 L611.98,234.12 L612.14,233.29 L612.3,232.45 L612.46,231.62 L612.61,230.78 L612.77,229.95 L612.92,229.11 L613.07,228.28 L613.22,227.44 L613.37,226.61 L613.51,225.77 L613.66,224.93 L613.8,224.1 L613.94,223.26 L614.08,222.42 L614.22,221.58 L614.36,220.74 L614.5,219.9 L614.63,219.06 L614.77,218.23 L614.9,217.39 L615.04,216.55 L615.17,215.71 L615.3,214.87 L615.43,214.03 L615.57,213.19 L615.7,212.35 L615.83,211.51 L615.96,210.66 L616.09,209.82 L616.23,208.98 L616.36,208.14 L616.49,207.3 L616.62,206.46 L616.76,205.62 L616.89,204.78 L617.03,203.95 L617.16,203.11 L617.3,202.27 L617.43,201.43 L617.57,200.59 L617.71,199.75 L617.85,198.91 L617.99,198.08 L618.14,197.24 L618.28,196.4 L618.43,195.56 L618.58,194.73 L618.73,193.89 L618.88,193.06 L619.03,192.22 L619.19,191.39 L619.34,190.55 L619.5,189.72 L619.66,188.89 L619.83,188.06 L620,187.23 L620.16,186.39 L620.34,185.56 L620.51,184.73 L620.69,183.91 L620.87,183.08 L621.05,182.25 L621.24,181.42 L621.43,180.6 L621.62,179.77 L621.82,178.95 L622.01,178.13 L622.22,177.3 L622.42,176.48 L622.63,175.66 L622.85,174.84 L623.07,174.02" stroke="#0c12f0" stroke-width="2.5" stroke-dasharray="6.4 6.6" stroke-dashoffset="-2" fill="none" clip-path="url(#cd)"/>
<text transform="translate(400.2,306.6) rotate(22.5)" font-size="11.6" fill="#0c12f0" font-style="italic" stroke="#0c12f0" stroke-width="0.22">(dP/dT)<tspan font-size="7.3" dy="2.6" font-style="normal">MIT</tspan><tspan dy="-2.6" dx="-0.8" font-style="normal"> &lt; 0</tspan></text>
<text x="387.1" y="354.7" font-size="11.8" stroke="#000" stroke-width="0.22"><tspan font-style="italic">S</tspan><tspan font-size="7.4" dy="2.6">met</tspan><tspan dy="-2.6"> &lt; </tspan><tspan font-style="italic">S</tspan><tspan font-size="7.4" dy="2.6">ins</tspan></text>
<text x="481" y="215.2" font-size="11.8" text-anchor="start" fill="#000"  stroke="#000" stroke-width="0.22">paramagnetic solid</text>
<text x="510.2" y="239.8" font-size="11.6" stroke="#000" stroke-width="0.22"><tspan font-style="italic">S</tspan><tspan x="520.4">=</tspan><tspan x="529.3">1/2</tspan></text>
<text x="545.8" y="422.7" font-size="11.8" text-anchor="start" fill="#000"  stroke="#000" stroke-width="0.22">Fermi liquid</text>
<path d="M168.6,245.7V333.2M205.8,245.7V333.2M242.2,245.7V333.2M143,270H262.2M143,308.8H262.2" stroke="#000" stroke-width="1.3" stroke-dasharray="1.15 1.45" fill="none"/>
<path d="M181.4,252.7L156.4,287" stroke="#f21a1a" stroke-width="1.5" marker-end="url(#ar)"/>
<path d="M184.8,263.7L225.1,275.4" stroke="#f21a1a" stroke-width="1.5" marker-end="url(#ar)"/>
<path d="M222.7,278.6L261.8,261.2" stroke="#f21a1a" stroke-width="1.5" marker-end="url(#ar)"/>
<path d="M163.5,330.3L173.1,288.9" stroke="#f21a1a" stroke-width="1.5" marker-end="url(#ar)"/>
<path d="M222.6,322.7L189.4,295.3" stroke="#f21a1a" stroke-width="1.5" marker-end="url(#ar)"/>
<path d="M262.2,300.4L223,317.4" stroke="#f21a1a" stroke-width="1.5" marker-end="url(#ar)"/>
<circle cx="168.6" cy="270" r="10.6" fill="url(#he)"/>
<g transform="translate(168.6,270) rotate(0)"><text x="-7.2" y="4.0" font-size="9.6"><tspan font-size="6.8" dy="-2.8">3</tspan><tspan dy="2.8">He</tspan></text></g>
<circle cx="205.8" cy="270" r="10.6" fill="url(#he)"/>
<g transform="translate(205.8,270) rotate(0)"><text x="-7.2" y="4.0" font-size="9.6"><tspan font-size="6.8" dy="-2.8">3</tspan><tspan dy="2.8">He</tspan></text></g>
<circle cx="242.2" cy="270" r="10.6" fill="url(#he)"/>
<g transform="translate(242.2,270) rotate(0)"><text x="-7.2" y="4.0" font-size="9.6"><tspan font-size="6.8" dy="-2.8">3</tspan><tspan dy="2.8">He</tspan></text></g>
<circle cx="168.6" cy="308.8" r="10.6" fill="url(#he)"/>
<g transform="translate(168.6,308.8) rotate(0)"><text x="-7.2" y="4.0" font-size="9.6"><tspan font-size="6.8" dy="-2.8">3</tspan><tspan dy="2.8">He</tspan></text></g>
<circle cx="205.8" cy="308.8" r="10.6" fill="url(#he)"/>
<g transform="translate(205.8,308.8) rotate(0)"><text x="-7.2" y="4.0" font-size="9.6"><tspan font-size="6.8" dy="-2.8">3</tspan><tspan dy="2.8">He</tspan></text></g>
<circle cx="242.2" cy="308.8" r="10.6" fill="url(#he)"/>
<g transform="translate(242.2,308.8) rotate(0)"><text x="-7.2" y="4.0" font-size="9.6"><tspan font-size="6.8" dy="-2.8">3</tspan><tspan dy="2.8">He</tspan></text></g>
<path d="M490.1,242.9V331.3M527,242.9V331.3M563.6,242.9V331.3M464.9,265.8H584.4M464.9,304.7H584.4" stroke="#000" stroke-width="1.3" stroke-dasharray="1.15 1.45" fill="none"/>
<path d="M502.9,248.5L477.9,282.8" stroke="#f21a1a" stroke-width="1.5" marker-end="url(#ar)"/>
<path d="M506,259.5L546.3,271.2" stroke="#f21a1a" stroke-width="1.5" marker-end="url(#ar)"/>
<path d="M544.1,274.4L583.2,257" stroke="#f21a1a" stroke-width="1.5" marker-end="url(#ar)"/>
<path d="M485,326.2L494.6,284.8" stroke="#f21a1a" stroke-width="1.5" marker-end="url(#ar)"/>
<path d="M543.8,318.6L510.6,291.2" stroke="#f21a1a" stroke-width="1.5" marker-end="url(#ar)"/>
<path d="M583.6,296.3L544.4,313.3" stroke="#f21a1a" stroke-width="1.5" marker-end="url(#ar)"/>
<circle cx="490.1" cy="265.8" r="10.6" fill="url(#el)"/>
<g transform="translate(490.1,265.8) rotate(0)"><text x="-4.5" y="3.7" font-size="11.6">e</text><path d="M2.8,-2.5H5.8" stroke="#111" stroke-width="0.9"/></g>
<circle cx="527" cy="265.8" r="10.6" fill="url(#el)"/>
<g transform="translate(527,265.8) rotate(0)"><text x="-4.5" y="3.7" font-size="11.6">e</text><path d="M2.8,-2.5H5.8" stroke="#111" stroke-width="0.9"/></g>
<circle cx="563.6" cy="265.8" r="10.6" fill="url(#el)"/>
<g transform="translate(563.6,265.8) rotate(0)"><text x="-4.5" y="3.7" font-size="11.6">e</text><path d="M2.8,-2.5H5.8" stroke="#111" stroke-width="0.9"/></g>
<circle cx="490.1" cy="304.7" r="10.6" fill="url(#el)"/>
<g transform="translate(490.1,304.7) rotate(0)"><text x="-4.5" y="3.7" font-size="11.6">e</text><path d="M2.8,-2.5H5.8" stroke="#111" stroke-width="0.9"/></g>
<circle cx="527" cy="304.7" r="10.6" fill="url(#el)"/>
<g transform="translate(527,304.7) rotate(0)"><text x="-4.5" y="3.7" font-size="11.6">e</text><path d="M2.8,-2.5H5.8" stroke="#111" stroke-width="0.9"/></g>
<circle cx="563.6" cy="304.7" r="10.6" fill="url(#el)"/>
<g transform="translate(563.6,304.7) rotate(0)"><text x="-4.5" y="3.7" font-size="11.6">e</text><path d="M2.8,-2.5H5.8" stroke="#111" stroke-width="0.9"/></g>
<circle cx="112.3" cy="419.7" r="9.6" fill="url(#heg)" opacity="0.75"/>
<circle cx="139.1" cy="408.7" r="9.6" fill="url(#heg)" opacity="0.75"/>
<circle cx="154.9" cy="390.5" r="9.6" fill="url(#heg)" opacity="0.75"/>
<circle cx="182.6" cy="401.3" r="9.6" fill="url(#heg)" opacity="0.75"/>
<circle cx="150" cy="435.9" r="9.6" fill="url(#heg)" opacity="0.75"/>
<circle cx="189.8" cy="434.3" r="9.6" fill="url(#heg)" opacity="0.75"/>
<path d="M117.21,412.47l-6.32,-3.01M118.07,410.66l-4.69,-2.24M118.93,408.86l-2.71,-1.29" stroke="#222" stroke-width="1.05" fill="none"/>
<path d="M148.85,414.42l1.42,-6.85M150.81,414.83l1.06,-5.09M152.77,415.24l0.61,-2.94" stroke="#222" stroke-width="1.05" fill="none"/>
<path d="M148.25,384.76l-2.95,6.35M146.43,383.92l-2.19,4.71M144.62,383.07l-1.27,2.72" stroke="#222" stroke-width="1.05" fill="none"/>
<path d="M174.39,403.6l4.44,5.41M172.84,404.87l3.3,4.02M171.3,406.14l1.9,2.32" stroke="#222" stroke-width="1.05" fill="none"/>
<path d="M156.5,443.33l3.7,-5.94M158.2,444.39l2.75,-4.41M159.9,445.44l1.59,-2.55" stroke="#222" stroke-width="1.05" fill="none"/>
<path d="M198.32,440.83l2.78,-6.43M200.15,441.62l2.06,-4.77M201.99,442.41l1.19,-2.75" stroke="#222" stroke-width="1.05" fill="none"/>
<circle cx="108.8" cy="422.2" r="9.6" fill="url(#he)"/>
<g transform="translate(108.8,422.2) rotate(-12)"><text x="-7.2" y="4.0" font-size="9.6"><tspan font-size="6.8" dy="-2.8">3</tspan><tspan dy="2.8">He</tspan></text></g>
<circle cx="135.6" cy="408.2" r="9.6" fill="url(#he)"/>
<g transform="translate(135.6,408.2) rotate(0)"><text x="-7.2" y="4.0" font-size="9.6"><tspan font-size="6.8" dy="-2.8">3</tspan><tspan dy="2.8">He</tspan></text></g>
<circle cx="157.9" cy="393" r="9.6" fill="url(#he)"/>
<g transform="translate(157.9,393) rotate(-38)"><text x="-7.2" y="4.0" font-size="9.6"><tspan font-size="6.8" dy="-2.8">3</tspan><tspan dy="2.8">He</tspan></text></g>
<circle cx="185.6" cy="398.8" r="9.6" fill="url(#he)"/>
<g transform="translate(185.6,398.8) rotate(8) scale(1,-1)"><text x="-7.2" y="4.0" font-size="9.6"><tspan font-size="6.8" dy="-2.8">3</tspan><tspan dy="2.8">He</tspan></text></g>
<circle cx="147" cy="433.4" r="9.6" fill="url(#he)"/>
<g transform="translate(147,433.4) rotate(38)"><text x="-7.2" y="4.0" font-size="9.6"><tspan font-size="6.8" dy="-2.8">3</tspan><tspan dy="2.8">He</tspan></text></g>
<circle cx="186" cy="431.8" r="9.6" fill="url(#he)"/>
<g transform="translate(186,431.8) rotate(0)"><text x="-7.2" y="4.0" font-size="9.6"><tspan font-size="6.8" dy="-2.8">3</tspan><tspan dy="2.8">He</tspan></text></g>
<circle cx="417.9" cy="419.7" r="9.6" fill="url(#elg)" opacity="0.75"/>
<circle cx="444.7" cy="408.7" r="9.6" fill="url(#elg)" opacity="0.75"/>
<circle cx="460.5" cy="390.5" r="9.6" fill="url(#elg)" opacity="0.75"/>
<circle cx="488.2" cy="401.3" r="9.6" fill="url(#elg)" opacity="0.75"/>
<circle cx="455.6" cy="435.9" r="9.6" fill="url(#elg)" opacity="0.75"/>
<circle cx="495.4" cy="434.3" r="9.6" fill="url(#elg)" opacity="0.75"/>
<path d="M422.81,412.47l-6.32,-3.01M423.67,410.66l-4.69,-2.24M424.53,408.86l-2.71,-1.29" stroke="#222" stroke-width="1.05" fill="none"/>
<path d="M454.45,414.42l1.42,-6.85M456.41,414.83l1.06,-5.09M458.37,415.24l0.61,-2.94" stroke="#222" stroke-width="1.05" fill="none"/>
<path d="M453.85,384.76l-2.95,6.35M452.03,383.92l-2.19,4.71M450.22,383.07l-1.27,2.72" stroke="#222" stroke-width="1.05" fill="none"/>
<path d="M479.99,403.6l4.44,5.41M478.44,404.87l3.3,4.02M476.9,406.14l1.9,2.32" stroke="#222" stroke-width="1.05" fill="none"/>
<path d="M462.1,443.33l3.7,-5.94M463.8,444.39l2.75,-4.41M465.5,445.44l1.59,-2.55" stroke="#222" stroke-width="1.05" fill="none"/>
<path d="M503.92,440.83l2.78,-6.43M505.75,441.62l2.06,-4.77M507.59,442.41l1.19,-2.75" stroke="#222" stroke-width="1.05" fill="none"/>
<circle cx="414.4" cy="422.2" r="9.6" fill="url(#el)"/>
<g transform="translate(414.4,422.2) rotate(-20)"><text x="-4.5" y="3.7" font-size="11.6">e</text><path d="M2.8,-2.5H5.8" stroke="#111" stroke-width="0.9"/></g>
<circle cx="441.2" cy="408.2" r="9.6" fill="url(#el)"/>
<g transform="translate(441.2,408.2) rotate(-12)"><text x="-4.5" y="3.7" font-size="11.6">e</text><path d="M2.8,-2.5H5.8" stroke="#111" stroke-width="0.9"/></g>
<circle cx="463.5" cy="393" r="9.6" fill="url(#el)"/>
<g transform="translate(463.5,393) rotate(-30)"><text x="-4.5" y="3.7" font-size="11.6">e</text><path d="M2.8,-2.5H5.8" stroke="#111" stroke-width="0.9"/></g>
<circle cx="491.2" cy="398.8" r="9.6" fill="url(#el)"/>
<g transform="translate(491.2,398.8) rotate(-14)"><text x="-4.5" y="3.7" font-size="11.6">e</text><path d="M2.8,-2.5H5.8" stroke="#111" stroke-width="0.9"/></g>
<circle cx="452.6" cy="433.4" r="9.6" fill="url(#el)"/>
<g transform="translate(452.6,433.4) rotate(18)"><text x="-4.5" y="3.7" font-size="11.6">e</text><path d="M2.8,-2.5H5.8" stroke="#111" stroke-width="0.9"/></g>
<circle cx="491.6" cy="431.8" r="9.6" fill="url(#el)"/>
<g transform="translate(491.6,431.8) rotate(0)"><text x="-4.5" y="3.7" font-size="11.6">e</text><path d="M2.8,-2.5H5.8" stroke="#111" stroke-width="0.9"/></g>
<text x="657.6" y="178.6" font-size="12" stroke="#000" stroke-width="0.22">x = 1</text>
<text x="657.6" y="444.8" font-size="12" stroke="#000" stroke-width="0.22">x = 0</text>
<path d="M685,185.6H659" stroke="#000" stroke-width="2"/><path d="M651.2,185.6l9.6,-3.3v6.6z" fill="#000"/>
<path d="M685,452.6H659" stroke="#000" stroke-width="2"/><path d="M651.2,452.6l9.6,-3.3v6.6z" fill="#000"/>
<path d="M666.8,402.8V244" stroke="#000" stroke-width="2"/><path d="M666.8,236.4l-3.1,10h6.2z" fill="#000"/>
<text transform="translate(674.9,317.8) rotate(90)" font-size="12.5" text-anchor="middle" stroke="#000" stroke-width="0.22">deuteration</text>
</svg>
</body></html>
